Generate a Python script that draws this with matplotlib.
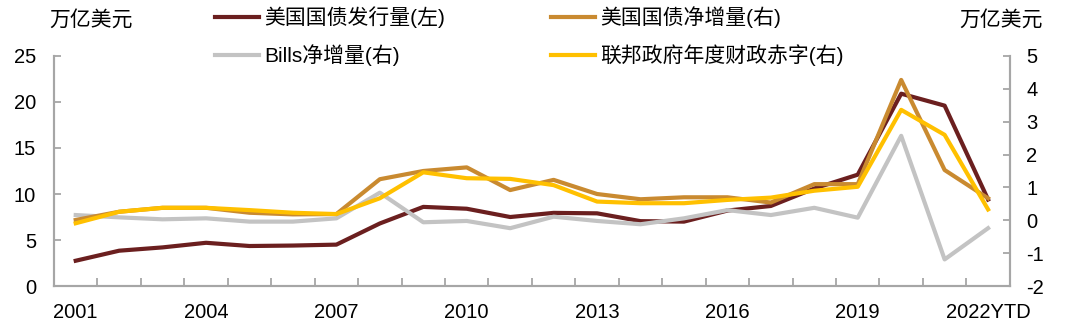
import matplotlib
matplotlib.use("Agg")
import matplotlib.pyplot as plt
import numpy as np

plt.rcParams['font.family'] = ['Liberation Sans', 'Noto Sans CJK SC', 'DejaVu Sans']
plt.rcParams['axes.unicode_minus'] = False

years = ['2001', '2002', '2003', '2004', '2005', '2006', '2007', '2008', '2009', '2010', '2011',
         '2012', '2013', '2014', '2015', '2016', '2017', '2018', '2019', '2020', '2021', '2022YTD']
tick_labels = ['2001', '', '', '2004', '', '', '2007', '', '', '2010', '', '', '2013', '', '', '2016',
               '', '', '2019', '', '', '2022YTD']

issuance = [2.75, 3.84, 4.2, 4.7, 4.35, 4.4, 4.5, 6.8, 8.6, 8.4, 7.5,
            7.95, 7.9, 7.05, 7.0, 8.2, 8.7, 10.6, 12.1, 20.9, 19.6, 9.4]
net_increase = [0.01, 0.26, 0.38, 0.38, 0.23, 0.18, 0.19, 1.25, 1.5, 1.61, 0.92,
                1.23, 0.8, 0.64, 0.7, 0.7, 0.54, 1.1, 1.1, 4.27, 1.53, 0.67]
bills = [0.16, 0.09, 0.03, 0.06, -0.04, -0.04, 0.06, 0.84, -0.06, -0.02, -0.24,
         0.11, -0.02, -0.12, 0.06, 0.31, 0.16, 0.38, 0.08, 2.57, -1.19, -0.24]
deficit = [-0.09, 0.26, 0.38, 0.38, 0.31, 0.23, 0.19, 0.67, 1.46, 1.28, 1.26,
           1.07, 0.57, 0.52, 0.52, 0.62, 0.69, 0.9, 1.02, 3.36, 2.6, 0.33]

c_red = '#6B1F1F'
c_gold = '#C98A30'
c_gray = '#C3C3C3'
c_yellow = '#FFC000'
c_axis = '#A6A6A6'
fs = 14.5
fs_cjk = 15

fig = plt.figure(figsize=(10.8, 3.33), dpi=100)
ax = fig.add_axes([0.05, 0.141, 0.885, 0.691])
ax2 = ax.twinx()

x = np.arange(len(years))
l1, = ax.plot(x, issuance, color=c_red, lw=3, label='美国国债发行量(左)')
l3, = ax2.plot(x, bills, color=c_gray, lw=3, label='Bills净增量(右)')
l2, = ax2.plot(x, net_increase, color=c_gold, lw=3, label='美国国债净增量(右)')
l4, = ax2.plot(x, deficit, color=c_yellow, lw=3, label='联邦政府年度财政赤字(右)')

ax.set_xlim(-0.5, len(years) - 0.5)
ax.set_ylim(0, 25)
ax.set_yticks([0, 5, 10, 15, 20, 25])
ax2.set_ylim(-2, 5)
ax2.set_yticks([-2, -1, 0, 1, 2, 3, 4, 5])

ax.set_xticks(x)
ax.set_xticklabels(tick_labels)
ax.set_xticks(np.arange(-0.5, len(years) + 0.5, 1), minor=True)
ax.tick_params(axis='x', which='major', length=0, pad=12, labelsize=fs)
ax.tick_params(axis='x', which='minor', direction='in', length=6, width=1.3, color=c_axis)
ax.tick_params(axis='y', direction='in', length=5, width=1.3, color=c_axis, pad=13, labelsize=fs)
ax2.tick_params(axis='y', direction='in', length=5, width=1.3, color=c_axis, pad=12, labelsize=fs)

for a in (ax, ax2):
    a.spines['top'].set_visible(False)
    for s in ('left', 'right', 'bottom'):
        a.spines[s].set_color(c_axis)
        a.spines[s].set_linewidth(1.5)

fig.text(0.046, 0.942, '万亿美元', fontsize=fs_cjk, ha='left', va='center')
fig.text(0.966, 0.942, '万亿美元', fontsize=fs_cjk, ha='right', va='center')

fig.legend(handles=[l1, l3, l2, l4], ncol=2, loc='upper left', bbox_to_anchor=(0.196, 0.99),
           frameon=False, fontsize=fs_cjk, handlelength=2.1, handletextpad=0.25,
           columnspacing=5.1, labelspacing=0.78, borderpad=0.15, borderaxespad=0)

fig.savefig('out.png', dpi=100)
